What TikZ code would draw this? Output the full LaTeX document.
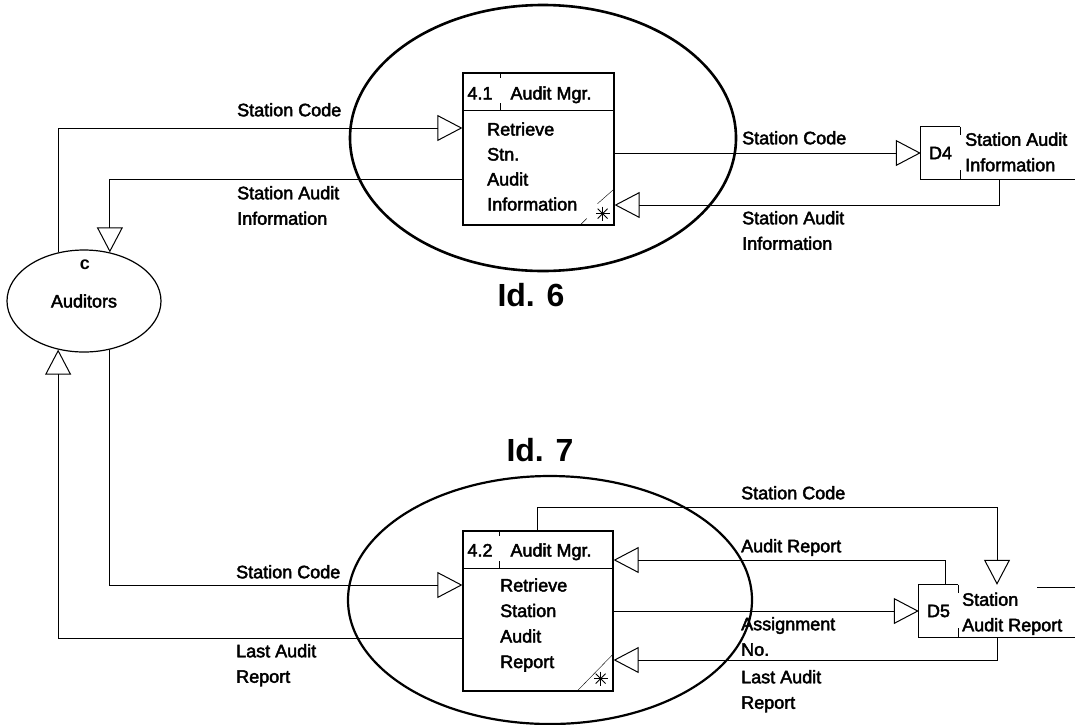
\documentclass[tikz,border=0pt]{standalone}
\usepackage{fontspec}
\setmainfont{Liberation Sans}
\newfontfamily\scanfam{Liberation Sans}[FakeBold=2.5]
\usepackage{tikz}
\usetikzlibrary{arrows.meta,positioning,shapes.geometric,calc}
\newcommand{\dfdfont}{\scanfam\fontsize{18}{25.5}\selectfont}

\begin{document}
\begin{tikzpicture}[x=1pt,y=-1pt,
    flow/.style={line width=1pt,-{Triangle[open,length=25pt,width=26pt]}},
    procbox/.style={draw,line width=1.2pt,inner sep=0pt},
    storebox/.style={inner sep=0pt,minimum width=39pt,minimum height=52pt,font=\dfdfont},
    edge/.style={line width=1.2pt},
    lbl/.style={anchor=north west,inner sep=0pt,align=left,font=\dfdfont},
    txt/.style={anchor=base,inner sep=0pt,font=\dfdfont},
    ring/.style={line width=2.6pt},
    idlbl/.style={inner sep=0pt,font=\fontsize{32}{36}\selectfont\bfseries}]
  \useasboundingbox (0,0) rectangle (1075,724);

  \draw[ring] (543,138) ellipse [x radius=193, y radius=133];
  \draw[ring,line width=2.2pt] (550,600) ellipse [x radius=202, y radius=124];

  \node[draw,ellipse,line width=1.2pt,minimum width=154pt,minimum height=102pt,
        inner sep=0pt,font=\dfdfont] (aud) at (84,301) {Auditors};
  \node[txt,font=\fontsize{18}{20}\selectfont\bfseries] (audc) at (85,269) {c};

  % process 4.1
  \node[procbox,minimum width=151pt,minimum height=152pt] (p41) at (538.5,149) {};
  \draw[edge] ([yshift=-38pt]p41.north west) -- ([yshift=-38pt]p41.north east);
  \draw ([xshift=38pt]p41.north west) -- ++(0,6) ++(0,25) -- ++(0,7);
  \node[txt] (p41no) at (480,99.5) {4.1};
  \node[txt] (p41who) at (551,99.5) {Audit Mgr.};
  \foreach \t [count=\i] in {Retrieve,Stn.,Audit,Information}
    \node[txt,anchor=base west] (p41t\i) at (487,110.5+25*\i) {\t};
  \draw ([xshift=-35pt]p41.south east) -- ++(7,-7)
        ([shift={(-17pt,22pt)}]p41.south east) -- ([yshift=37pt]p41.south east);
  \coordinate (ast41) at ([shift={(-12pt,12pt)}]p41.south east);
  \foreach \a in {0,45,90,135}
    \draw[line width=0.9pt] (ast41) ++(\a:7pt) -- ++(\a+180:14pt);

  % process 4.2
  \node[procbox,minimum width=150pt,minimum height=160pt] (p42) at (538,611) {};
  \draw[edge] ([yshift=-38pt]p42.north west) -- ([yshift=-38pt]p42.north east);
  \draw ([xshift=37pt]p42.north west) -- ++(0,6) ++(0,25) -- ++(0,7);
  \node[txt] (p42no) at (480,556.5) {4.2};
  \node[txt] (p42who) at (551,556.5) {Audit Mgr.};
  \foreach \t [count=\i] in {Retrieve,Station,Audit,Report}
    \node[txt,anchor=base west] (p42t\i) at (500,566+25.5*\i) {\t};
  \draw ([xshift=-37pt]p42.south east) -- ([yshift=38pt]p42.south east);
  \coordinate (ast42) at ([shift={(-13pt,13pt)}]p42.south east);
  \foreach \a in {0,45,90,135}
    \draw[line width=0.9pt] (ast42) ++(\a:7pt) -- ++(\a+180:14pt);

  % data stores
  \node[storebox] (d4) at (940.5,153) {D4};
  \draw[edge] (d4.north east) -- (d4.north west) -- (d4.south west) -- ++(154,0);
  \draw (d4.north east) -- ++(0,8) (d4.south east) -- ++(0,-9);
  \node[lbl] (d4name) at (965,132.5) {Station Audit\\Information};

  \node[storebox] (d5) at (938.5,611) {D5};
  \draw[edge] (d5.north east) -- (d5.north west) -- (d5.south west) -- ++(156,0);
  \draw (d5.north east) -- ++(0,8) (d5.south east) -- ++(0,-9);
  \draw (1037,587) -- (1075,587);
  \node[lbl] (d5name) at (962,592.5) {Station\\Audit Report};

  % flows
  \draw[flow] (aud.118) |- ([yshift=21pt]p41.west);
  \draw[flow] ([yshift=-30pt]p41.west) -| (aud.62);
  \draw[flow] ([yshift=-4pt]p41.east) -- (d4.west);
  \draw[flow] ([xshift=58.5pt]d4.south) |- ([yshift=-56pt]p41.east);
  \draw[flow] (aud.298) |- ([yshift=26pt]p42.west);
  \draw[flow] ([yshift=-27pt]p42.west) -| (aud.242);
  \draw[flow] ([xshift=-1pt]p42.north) -- ++(0,-23) -| ([xshift=58.5pt]d5.north);
  \draw[flow] ([xshift=6.5pt]d5.north) |- ([yshift=51pt]p42.east);
  \draw[flow] (p42.east) -- (d5.west);
  \draw[flow] ([xshift=58.5pt]d5.south) |- ([yshift=-49pt]p42.east);

  \node[lbl] (sc1) at (237,103) {Station Code};
  \node[lbl] (sai1) at (237,186) {Station Audit\\Information};
  \node[lbl] (sc2) at (742,131) {Station Code};
  \node[lbl] (sai2) at (742,211) {Station Audit\\Information};
  \node[lbl] (sc3) at (236,565) {Station Code};
  \node[lbl] (lar1) at (236,644) {Last Audit\\Report};
  \node[lbl] (sc4) at (741,486) {Station Code};
  \node[lbl] (ar1) at (741,539) {Audit Report};
  \node[lbl] (asg) at (741,617) {Assignment\\No.};
  \node[lbl] (lar2) at (741,670) {Last Audit\\Report};

  \node[idlbl] (id6) at (531,295) {Id. 6};
  \node[idlbl] (id7) at (540,450) {Id. 7};
\end{tikzpicture}
\end{document}
